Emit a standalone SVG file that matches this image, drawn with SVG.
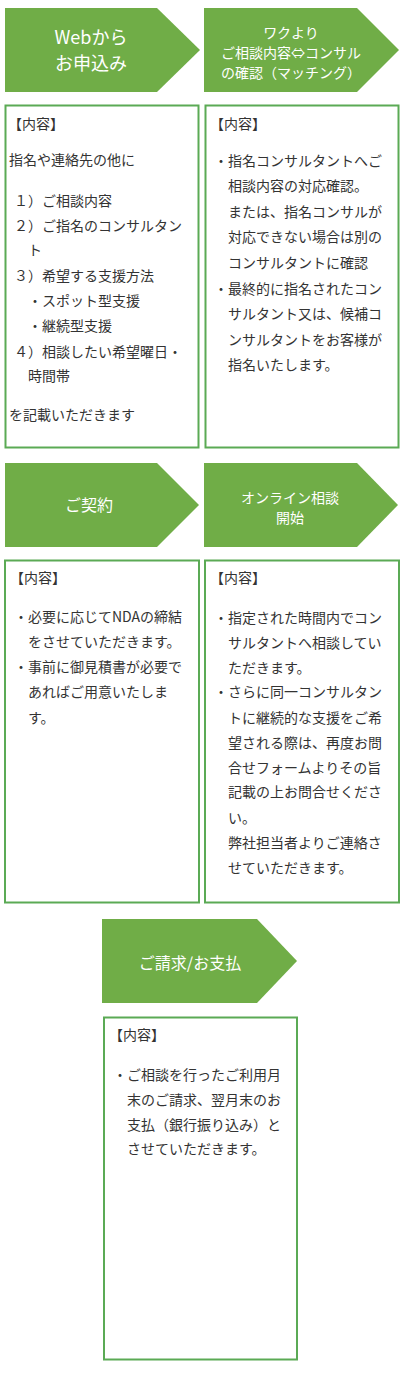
<svg xmlns="http://www.w3.org/2000/svg" width="405" height="1373" viewBox="0 0 405 1373">
<style>
.chev{fill:#70AD47}
.box{fill:#fff;stroke:#5BAA55;stroke-width:2}
.ht{fill:#fff;font-family:"Noto Sans CJK JP","Noto Sans",sans-serif;text-anchor:middle}
.bt{fill:#333;font-family:"Noto Sans CJK JP","Noto Sans",sans-serif;font-size:14px}
</style>
<rect width="405" height="1373" fill="#fff"/>
<g id="step1">
<polygon class="chev" points="5,8 157,8 200,50 157,92 5,92"/>
<text class="ht" font-size="18" x="91" y="44">Webから</text>
<text class="ht" font-size="18" x="91" y="70">お申込み</text>
</g>
<g id="step2">
<polygon class="chev" points="204,8 357,8 399,50 357,92 204,92"/>
<text class="ht" font-size="14" x="291" y="38">ワクより</text>
<text class="ht" font-size="14" x="291" y="58">ご相談内容⇔コンサル</text>
<text class="ht" font-size="14" x="291" y="78">の確認（マッチング）</text>
</g>
<g id="detail1">
<rect class="box" x="5.5" y="105.5" width="193" height="342"/>
<text class="bt" x="8" y="129">【内容】</text>
<text class="bt" x="9" y="165">指名や連絡先の他に</text>
<text class="bt" x="14" y="206">１）ご相談内容</text>
<text class="bt" x="14" y="231">２）ご指名のコンサルタン</text>
<text class="bt" x="28" y="255">ト</text>
<text class="bt" x="14" y="281">３）希望する支援方法</text>
<text class="bt" x="28" y="306">・スポット型支援</text>
<text class="bt" x="28" y="331">・継続型支援</text>
<text class="bt" x="14" y="357">４）相談したい希望曜日・</text>
<text class="bt" x="28" y="381">時間帯</text>
<text class="bt" x="9" y="420">を記載いただきます</text>
</g>
<g id="detail2">
<rect class="box" x="205.5" y="105.5" width="193" height="342"/>
<text class="bt" x="210" y="129">【内容】</text>
<text class="bt" x="214" y="166">・指名コンサルタントへご</text>
<text class="bt" x="228" y="191">相談内容の対応確認。</text>
<text class="bt" x="228" y="217">または、指名コンサルが</text>
<text class="bt" x="228" y="242">対応できない場合は別の</text>
<text class="bt" x="228" y="268">コンサルタントに確認</text>
<text class="bt" x="214" y="294">・最終的に指名されたコン</text>
<text class="bt" x="228" y="319">サルタント又は、候補コ</text>
<text class="bt" x="228" y="345">ンサルタントをお客様が</text>
<text class="bt" x="228" y="370">指名いたします。</text>
</g>
<g id="step3">
<polygon class="chev" points="5,463 157,463 199,505 157,547 5,547"/>
<text class="ht" font-size="16" x="89" y="511">ご契約</text>
</g>
<g id="step4">
<polygon class="chev" points="204,463 357,463 398,505 357,547 204,547"/>
<text class="ht" font-size="14" x="290" y="503">オンライン相談</text>
<text class="ht" font-size="14" x="290" y="523">開始</text>
</g>
<g id="detail3">
<rect class="box" x="5" y="560.5" width="194" height="342"/>
<text class="bt" x="10" y="583">【内容】</text>
<text class="bt" x="14" y="622">・必要に応じてNDAの締結</text>
<text class="bt" x="28" y="647">をさせていただきます。</text>
<text class="bt" x="14" y="672">・事前に御見積書が必要で</text>
<text class="bt" x="28" y="697">あればご用意いたしま</text>
<text class="bt" x="28" y="723">す。</text>
</g>
<g id="detail4">
<rect class="box" x="205" y="560.5" width="194" height="342"/>
<text class="bt" x="210" y="583">【内容】</text>
<text class="bt" x="214" y="623">・指定された時間内でコン</text>
<text class="bt" x="228" y="648">サルタントへ相談してい</text>
<text class="bt" x="228" y="673">ただきます。</text>
<text class="bt" x="214" y="697">・さらに同一コンサルタン</text>
<text class="bt" x="228" y="723">トに継続的な支援をご希</text>
<text class="bt" x="228" y="748">望される際は、再度お問</text>
<text class="bt" x="228" y="773">合せフォームよりその旨</text>
<text class="bt" x="228" y="797">記載の上お問合せくださ</text>
<text class="bt" x="228" y="823">い。</text>
<text class="bt" x="228" y="848">弊社担当者よりご連絡さ</text>
<text class="bt" x="228" y="873">せていただきます。</text>
</g>
<g id="step5">
<polygon class="chev" points="102,919 257,919 297,961 257,1003 102,1003"/>
<text class="ht" font-size="16" x="190" y="969">ご請求/お支払</text>
</g>
<g id="detail5">
<rect class="box" x="104" y="1017.5" width="193" height="342"/>
<text class="bt" x="109" y="1040">【内容】</text>
<text class="bt" x="113" y="1080">・ご相談を行ったご利用月</text>
<text class="bt" x="127" y="1105">末のご請求、翌月末のお</text>
<text class="bt" x="127" y="1130">支払（銀行振り込み）と</text>
<text class="bt" x="127" y="1154">させていただきます。</text>
</g>
</svg>
